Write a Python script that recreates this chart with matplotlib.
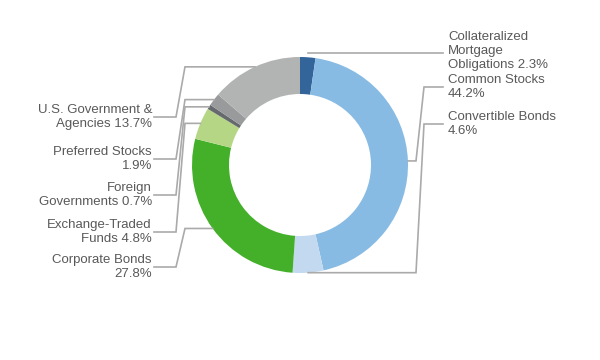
import matplotlib.pyplot as plt
import numpy as np

# Portfolio allocation (percent), clockwise from 12 o'clock
labels = [
    "Collateralized\nMortgage\nObligations 2.3%",
    "Common Stocks\n44.2%",
    "Convertible Bonds\n4.6%",
    "Corporate Bonds\n27.8%",
    "Exchange-Traded\nFunds 4.8%",
    "Foreign\nGovernments 0.7%",
    "Preferred Stocks\n1.9%",
    "U.S. Government &\nAgencies 13.7%",
]
values = [2.3, 44.2, 4.6, 27.8, 4.8, 0.7, 1.9, 13.7]
colors = ["#34659a", "#88bbe3", "#c3d9ef", "#44b02a",
          "#b5d785", "#666a6e", "#999a9b", "#b2b3b3"]

# label side and label row (pixel y from top) - layout only
sides = ["R", "R", "R", "L", "L", "L", "L", "L"]
label_y = [51, 87, 124, 267, 232, 195, 159, 117]

W, H = 600, 360
CX, CY = 300, 165          # donut centre in pixels (from top)
R_OUT, RING = 108, 37
LINE_C = "#aaaaaa"
TEXT_C = "#595959"

fig = plt.figure(figsize=(6, 3.6), dpi=100)
ax = fig.add_axes([0, 0, 1, 1])

ax.pie(values, colors=colors, startangle=90, counterclock=False,
       center=(CX, H - CY), radius=R_OUT,
       wedgeprops=dict(width=RING, linewidth=0))
ax.set_xlim(0, W)
ax.set_ylim(0, H)
ax.set_aspect("equal")
ax.axis("off")

# leader lines from wedge mid-angles
cum = np.cumsum([0] + values[:-1])
for v, c, lab, side, ly in zip(values, cum, labels, sides, label_y):
    ang = np.deg2rad((c + v / 2) / 100 * 360)   # clockwise from top
    ax_x = CX + 108 * np.sin(ang)
    ax_y = CY - 108 * np.cos(ang)
    if side == "R":
        if abs(ax_y - ly) < 8:
            ax_y = CY - 112 * np.cos(ang)
            xs = [ax_x, 443]
            ys = [ax_y, ax_y]
        else:
            xs = [ax_x, 416, 424, 443]
            ys = [ax_y, ax_y, ly, ly]
        tx, ha = 448, "left"
    else:
        xs = [ax_x, 185, 176, 154]
        ys = [ax_y, ax_y, ly, ly]
        tx, ha = 152, "right"
    ax.plot(xs, [H - y for y in ys], color=LINE_C, lw=1.2,
            solid_joinstyle="miter")
    ax.text(tx, H - ly, lab, ha=ha, va="center", color=TEXT_C,
            fontsize=9.5, family="Liberation Sans", linespacing=1.25)

fig.savefig("out.png", dpi=100)
